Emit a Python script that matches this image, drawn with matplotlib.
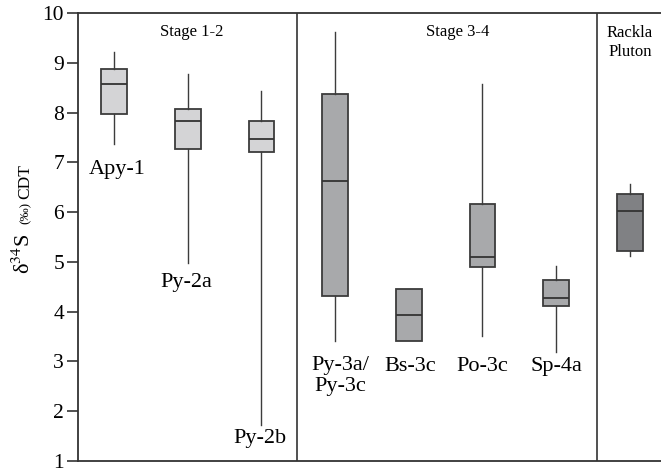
import matplotlib
matplotlib.use('Agg')
import matplotlib.pyplot as plt

plt.rcParams['font.family'] = ['Liberation Serif', 'DejaVu Serif']
plt.rcParams['mathtext.fontset'] = 'stix'

# === Box statistics (delta34S, permil CDT) ===
labels = ['Apy-1', 'Py-2a', 'Py-2b', 'Py-3a/\nPy-3c', 'Bs-3c', 'Po-3c', 'Sp-4a', 'Rackla']
whislo = [7.37, 4.97, 1.73, 3.41, 3.42, 3.51, 3.18, 5.12]
q1     = [7.97, 7.26, 7.20, 4.32, 3.42, 4.89, 4.11, 5.22]
med    = [8.57, 7.83, 7.47, 6.63, 3.94, 5.10, 4.27, 6.02]
q3     = [8.88, 8.08, 7.83, 8.37, 4.45, 6.17, 4.64, 6.37]
whishi = [9.22, 8.77, 8.43, 9.61, 4.45, 8.57, 4.92, 6.57]
group  = [0, 0, 0, 1, 1, 1, 1, 2]

group_colors = ['#d4d4d6', '#a8a9ab', '#808184']
group_names = ['Stage 1-2', 'Stage 3-4', 'Rackla\nPluton']
group_label_x = [2.06, 5.67, 8.0]
group_label_y = [9.62, 9.62, 9.41]

# where the sample names sit
name_x = [1.04, 1.98, 2.98, 4.07, 5.02, 6.0, 7.0]
name_y = [6.86, 4.59, 1.46, 2.70, 2.89, 2.89, 2.89]

dividers = [3.483, 7.553]

fig = plt.figure(figsize=(6.61, 4.72), dpi=100)
ax = fig.add_axes([78 / 661, 1 - 461 / 472, 1 - 78 / 661, 448 / 472])

stats = []
for i in range(len(labels)):
    stats.append({'whislo': whislo[i], 'q1': q1[i], 'med': med[i],
                  'q3': q3[i], 'whishi': whishi[i], 'label': labels[i]})

positions = list(range(1, len(labels) + 1))
bp = ax.bxp(stats, positions=positions, widths=0.35, showfliers=False,
            showcaps=False, patch_artist=True,
            boxprops=dict(edgecolor='#3c3c3c', linewidth=1.3),
            medianprops=dict(color='#333333', linewidth=1.3),
            whiskerprops=dict(color='#3c3c3c', linewidth=1.0))
for patch, g in zip(bp['boxes'], group):
    patch.set_facecolor(group_colors[g])

for xd in dividers:
    ax.axvline(xd, color='#333333', linewidth=1.2)

for i in range(len(name_x)):
    ax.text(name_x[i], name_y[i], labels[i], ha='center', va='center',
            fontsize=16, linespacing=1.15)

for i in range(len(group_names)):
    ax.text(group_label_x[i], group_label_y[i], group_names[i], ha='center',
            va='center', fontsize=12, linespacing=1.2)

ax.set_xlim(0.5115, 8.422)
ax.set_ylim(1, 10)
ax.set_yticks(range(1, 11))
ax.set_xticks([])
ax.tick_params(axis='y', direction='out', length=8, width=1.2, pad=2,
               labelsize=15.5, color='#333333')
for side in ['left', 'bottom', 'top']:
    ax.spines[side].set_linewidth(1.3)
    ax.spines[side].set_color('#333333')
ax.spines['right'].set_visible(False)

# y label in three pieces: delta34S, (permil), CDT
fig.text(24 / 661, 1 - 254 / 472, 'δ$^{34}$S', rotation=90,
         ha='center', va='center', fontsize=16)
fig.text(26 / 661, 1 - 213 / 472, '(‰)', rotation=90,
         ha='center', va='center', fontsize=9.5)
fig.text(25 / 661, 1 - 182 / 472, 'CDT', rotation=90,
         ha='center', va='center', fontsize=12.5)

fig.savefig('out.png', dpi=100)
